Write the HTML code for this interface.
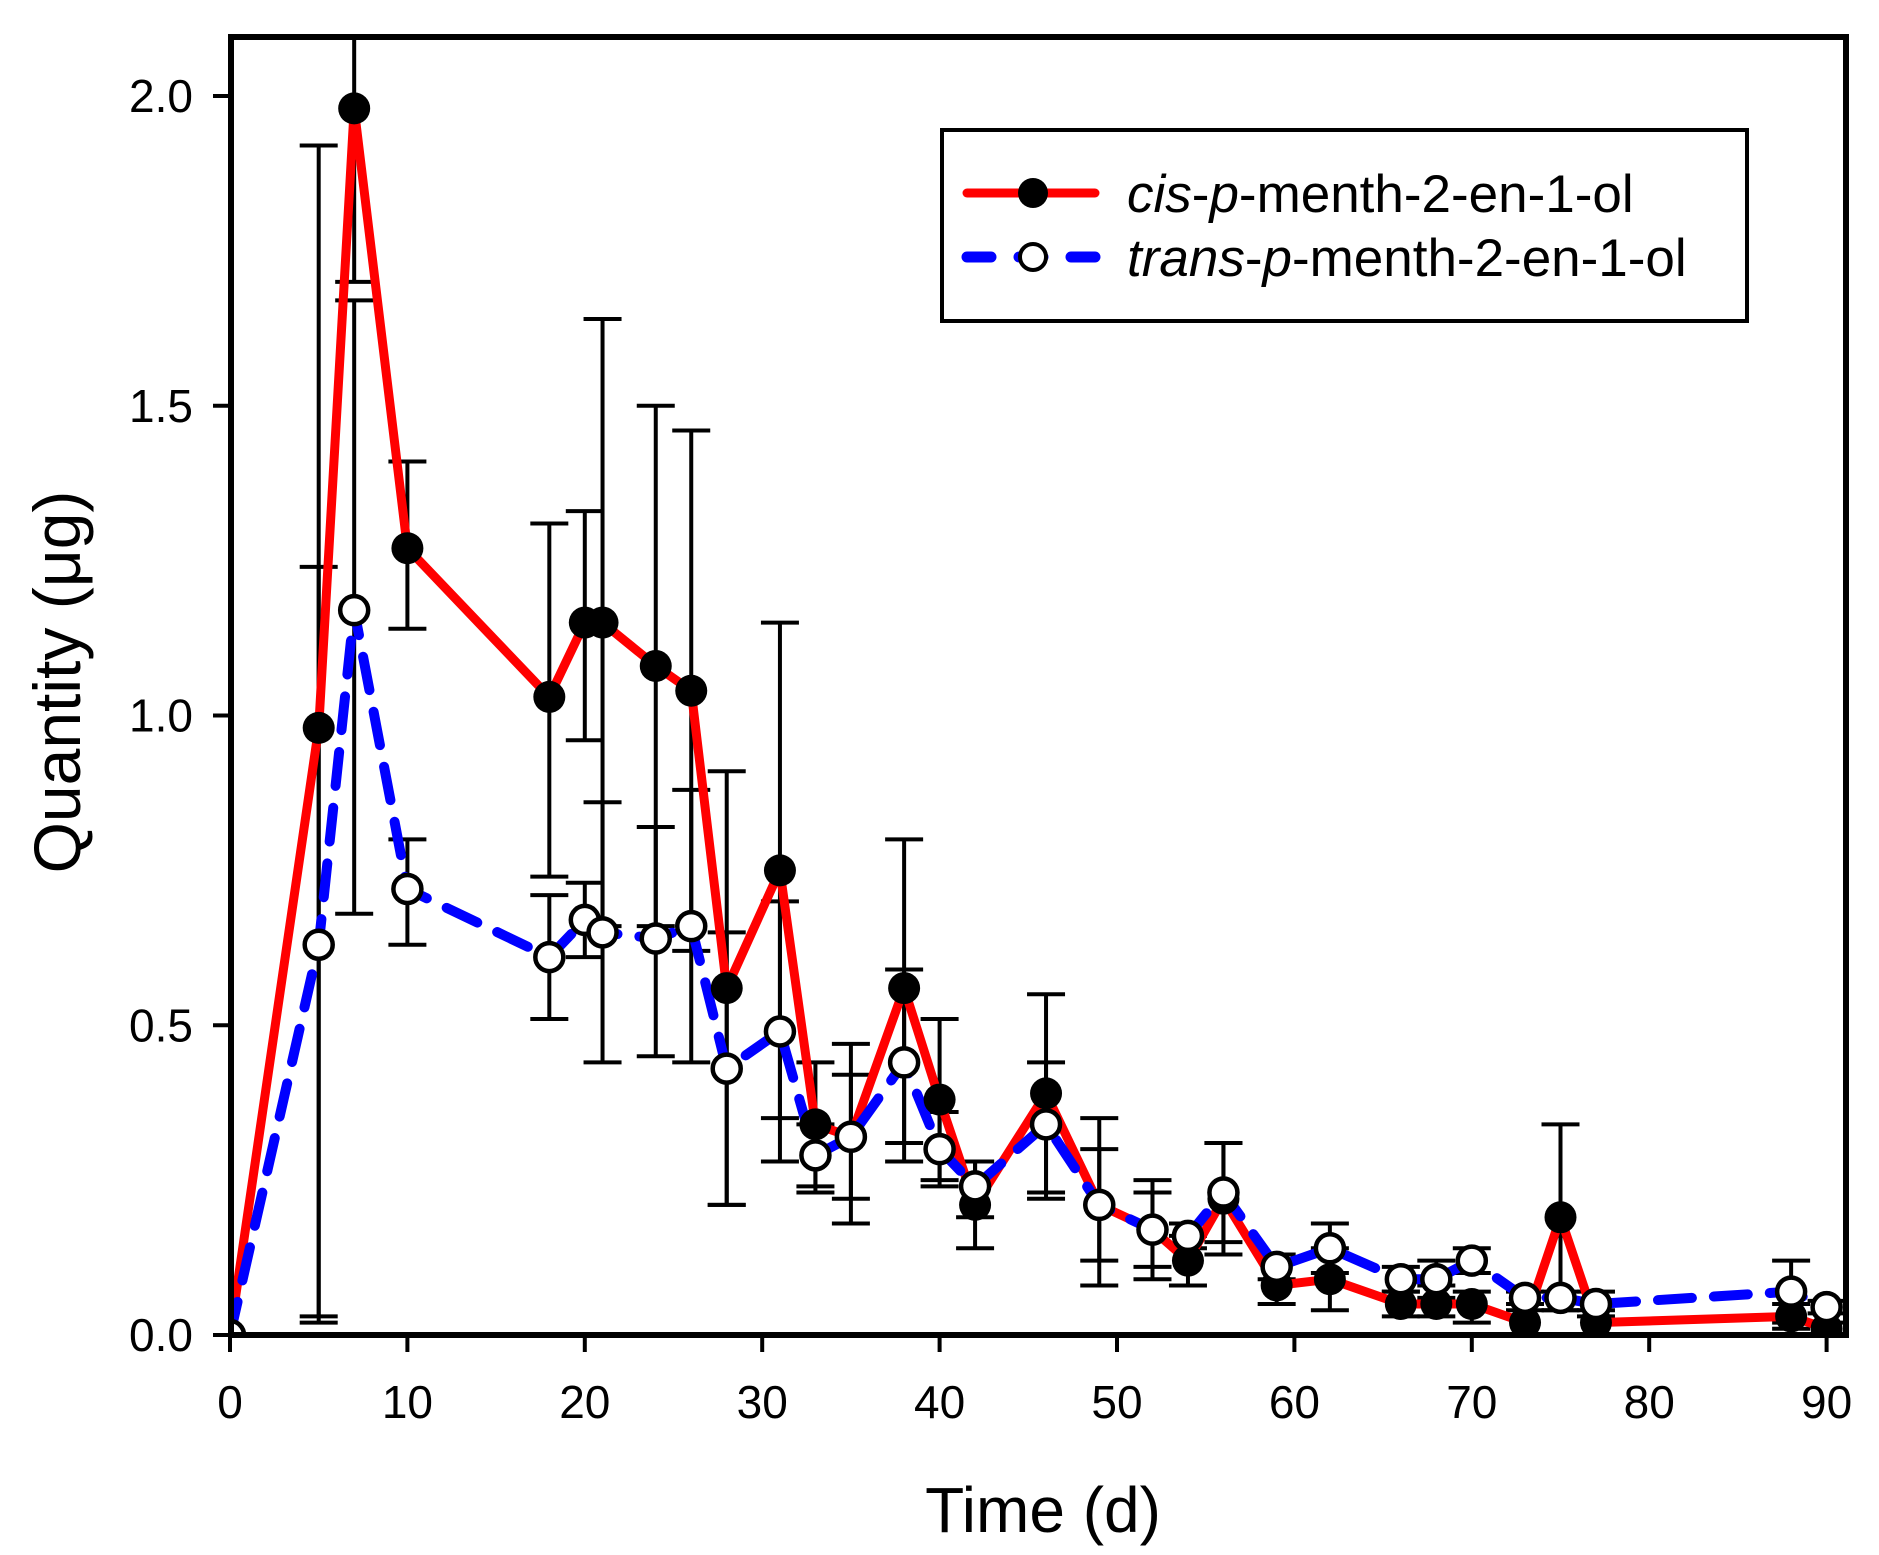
<!DOCTYPE html>
<html><head><meta charset="utf-8"><style>
html,body{margin:0;padding:0;background:#fff;}
svg{display:block;}
text{font-family:"Liberation Sans",Arial,sans-serif;fill:#000;}
</style></head><body>
<svg id="s" width="1879" height="1555" viewBox="0 0 1879 1555" xmlns="http://www.w3.org/2000/svg">
<rect width="1879" height="1555" fill="#fff"/>
<g id="plot"></g>
<rect x="231" y="37" width="1615" height="1298" fill="none" stroke="#000" stroke-width="6"/>
<g id="axes"></g>
<text x="1043" y="1532" font-size="64" text-anchor="middle">Time (d)</text>
<text transform="translate(80,682) rotate(-90)" font-size="66" text-anchor="middle">Quantity  (μg)</text>
<rect x="942" y="130" width="805" height="191" fill="#fff" stroke="#000" stroke-width="4"/>
<line x1="967" y1="193" x2="1095" y2="193" stroke="#f00" stroke-width="9" stroke-linecap="round"/>
<circle cx="1033" cy="193" r="15" fill="#000"/>
<line x1="967" y1="257" x2="1095" y2="257" stroke="#00f" stroke-width="11" stroke-linecap="round" stroke-dasharray="24,28"/>
<circle cx="1033" cy="257" r="13" fill="#fff" stroke="#000" stroke-width="4"/>
<text x="1127" y="212" font-size="53"><tspan font-style="italic">cis</tspan>-<tspan font-style="italic">p</tspan>-menth-2-en-1-ol</text>
<text x="1127" y="276" font-size="53"><tspan font-style="italic">trans</tspan>-<tspan font-style="italic">p</tspan>-menth-2-en-1-ol</text>
</svg>
<script>
var X=function(v){return 230+v*17.74;};
var Y=function(v){return 1335-v*619.5;};
var NS="http://www.w3.org/2000/svg";
function el(p,t,a){var e=document.createElementNS(NS,t);for(var k in a)e.setAttribute(k,a[k]);p.appendChild(e);return e;}
var cis=[[0,0],[5,0.98,1.92,0.03],[7,1.98,2.3,1.7],[10,1.27,1.41,1.14],[18,1.03,1.31,0.74],[20,1.15,1.33,0.96],[21,1.15,1.64,0.66],[24,1.08,1.50,0.66],[26,1.04,1.46,0.62],[28,0.56,0.91,0.21],[31,0.75,1.15,0.35],[33,0.34,0.44,0.24],[35,0.32,0.42,0.22],[38,0.56,0.80,0.31],[40,0.38,0.51,0.25],[42,0.21,0.28,0.14],[46,0.39,0.55,0.23],[49,0.21,0.35,0.08],[52,0.17,0.25,0.09],[54,0.12,0.16,0.08],[56,0.22,0.31,0.13],[59,0.08,0.12,0.05],[62,0.09,0.14,0.04],[66,0.05,0.07,0.03],[68,0.05,0.08,0.03],[70,0.05,0.07,0.02],[73,0.02,0.04,0.0],[75,0.19,0.34,0.04],[77,0.02,0.03,0.0],[88,0.03,0.05,0.01],[90,0.01,0.02,0.0]];
var tr=[[0,0],[5,0.63,1.24,0.02],[7,1.17,1.67,0.68],[10,0.72,0.80,0.63],[18,0.61,0.71,0.51],[20,0.67,0.73,0.61],[21,0.65,0.86,0.44],[24,0.64,0.82,0.45],[26,0.66,0.88,0.44],[28,0.43,0.65,0.21],[31,0.49,0.70,0.28],[33,0.29,0.34,0.23],[35,0.32,0.47,0.18],[38,0.44,0.59,0.28],[40,0.30,0.36,0.24],[42,0.24,0.28,0.19],[46,0.34,0.44,0.22],[49,0.21,0.30,0.12],[52,0.17,0.23,0.11],[54,0.16,0.18,0.14],[56,0.23,0.31,0.15],[59,0.11,0.13,0.09],[62,0.14,0.18,0.10],[66,0.09,0.11,0.07],[68,0.09,0.12,0.06],[70,0.12,0.14,0.10],[73,0.06,0.07,0.05],[75,0.06,0.07,0.04],[77,0.05,0.07,0.04],[88,0.07,0.12,0.02],[90,0.045,0.055,0.035]];
var g=document.getElementById("plot");
var clip=el(g,"clipPath",{id:"c"});el(clip,"rect",{x:231,y:37,width:1615,height:1298});
var gg=el(g,"g",{"clip-path":"url(#c)"});
function bars(d){d.forEach(function(p){if(p.length<3)return;var x=X(p[0]);
el(gg,"line",{x1:x,y1:Y(p[2]),x2:x,y2:Y(p[3]),stroke:"#000","stroke-width":4});
[p[2],p[3]].forEach(function(v){el(gg,"line",{x1:x-19,y1:Y(v),x2:x+19,y2:Y(v),stroke:"#000","stroke-width":4});});});}
bars(cis);bars(tr);
function pts(d){return d.map(function(p){return X(p[0]).toFixed(1)+","+Y(p[1]).toFixed(1);}).join(" ");}
el(gg,"polyline",{points:pts(cis),fill:"none",stroke:"#f00","stroke-width":9,"stroke-linejoin":"round"});
el(gg,"polyline",{points:pts(tr),fill:"none",stroke:"#00f","stroke-width":10,"stroke-linecap":"round","stroke-dasharray":"34,22"});
cis.forEach(function(p){el(gg,"circle",{cx:X(p[0]),cy:Y(p[1]),r:16,fill:"#000"});});
tr.forEach(function(p){el(gg,"circle",{cx:X(p[0]),cy:Y(p[1]),r:14,fill:"#fff",stroke:"#000","stroke-width":4.5});});
var a=document.getElementById("axes");
for(var i=0;i<=9;i++){var x=X(i*10);el(a,"line",{x1:x,y1:1335,x2:x,y2:1352,stroke:"#000","stroke-width":4});
var t=el(a,"text",{x:x,y:1418,"font-size":46,"text-anchor":"middle"});t.textContent=String(i*10);}
for(var j=0;j<=4;j++){var v=j*0.5,y=Y(v);el(a,"line",{x1:213,y1:y,x2:231,y2:y,stroke:"#000","stroke-width":4});
var t2=el(a,"text",{x:193,y:y+16,"font-size":46,"text-anchor":"end"});t2.textContent=v.toFixed(1);}
</script>
</body></html>
